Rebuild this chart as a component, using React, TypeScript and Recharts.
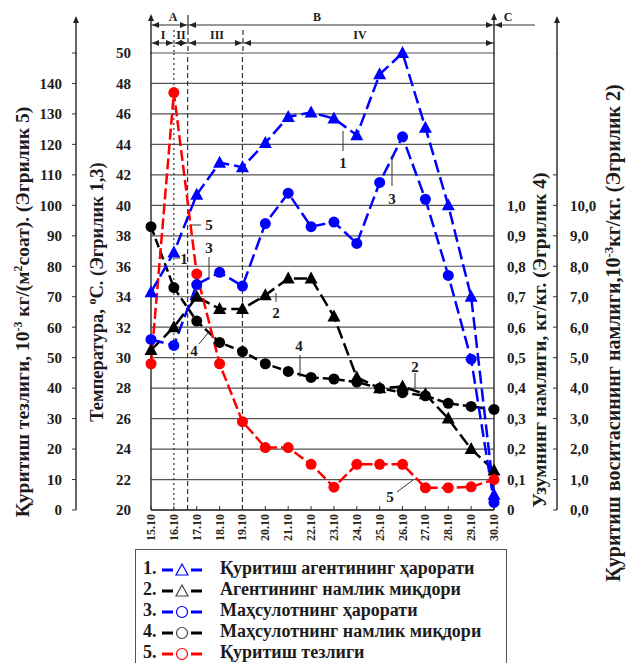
import {
    CartesianGrid,
    ComposedChart,
    Line,
    ReferenceLine,
    XAxis,
    YAxis,
} from "recharts";

// X categories (days of October)
const dates = [
    "15.10", "16.10", "17.10", "18.10", "19.10", "20.10", "21.10", "22.10",
    "23.10", "24.10", "25.10", "26.10", "27.10", "28.10", "29.10", "30.10",
];

// 1. drying agent temperature, °C
const agentTemp = [34.3, 36.9, 40.7, 42.8, 42.5, 44.1, 45.8, 46.1, 45.7, 44.6, 48.6, 50.0, 45.1, 40.0, 34.0, 21.0];
// 2. agent moisture, 10^-3 kg/kg
const agentMoisture = [5.25, 6.0, 7.0, 6.6, 6.6, 7.05, 7.6, 7.6, 6.35, 4.35, 4.0, 4.05, 3.8, 3.0, 2.0, 1.3];
// 3. product temperature, °C
const productTemp = [31.2, 30.8, 34.8, 35.6, 34.7, 38.8, 40.8, 38.6, 38.9, 37.5, 41.5, 44.5, 40.4, 35.4, 29.9, 20.5];
// 4. product (grape) moisture, kg/kg
const productMoisture = [0.93, 0.73, 0.62, 0.55, 0.52, 0.48, 0.455, 0.435, 0.43, 0.42, 0.4, 0.385, 0.375, 0.35, 0.34, 0.33];
// 5. drying rate, 10^-3 kg/(m2 h)
const dryingRate = [48, 137, 77.5, 48, 29, 20.5, 20.5, 15, 7.5, 15, 15, 15, 7.3, 7.3, 7.6, 10];

const seriesNames = [
    "Қуритиш агентининг ҳарорати",
    "Агентининг намлик миқдори",
    "Маҳсулотнинг ҳарорати",
    "Маҳсулотнинг намлик миқдори",
    "Қуритиш тезлиги",
];

const xTicks = [0, 1, 2, 3, 4, 5, 6, 7, 8, 9, 10, 11, 12, 13, 14, 15];
const tempTicks = [20, 22, 24, 26, 28, 30, 32, 34, 36, 38, 40, 42, 44, 46, 48, 50];
const rateTicks = [0, 10, 20, 30, 40, 50, 60, 70, 80, 90, 100, 110, 120, 130, 140, 150];
const moistTicks = [0, 0.1, 0.2, 0.3, 0.4, 0.5, 0.6, 0.7, 0.8, 0.9, 1.0];
const agentTicks = [0, 1, 2, 3, 4, 5, 6, 7, 8, 9, 10, 11];

const data = dates.map((date, i) => ({
    idx: i,
    date,
    agentTemp: agentTemp[i],
    agentMoisture: agentMoisture[i],
    productTemp: productTemp[i],
    productMoisture: productMoisture[i],
    dryingRate: dryingRate[i],
}));

// axis ids: recharts stacks same-side axes by id, first one next to the plot
const TEMP = "l1-temp";
const RATE = "l2-rate";
const MOIST = "r1-moist";
const AGENT = "r2-agent";

const FONT = '"Liberation Serif", "Times New Roman", serif';
const INK = "#1c1c1c";
const BLUE = "#0000ff";
const RED = "#ff0000";
const BLACK = "#000000";

const tickStyle = { fontSize: 15, fontWeight: 700, fill: INK, fontFamily: FONT };
const axisLine = { stroke: "#333", strokeWidth: 1.5 };

const comma = (v: number) => (v === 0 ? "0" : v.toFixed(1).replace(".", ","));

const triangleDot = (color: string, name: string) => (props: any) => {
    const { cx, cy, index } = props;
    if (cx == null || cy == null) return <g key={`${name}-${index}`} />;
    return (
        <polygon
            key={`${name}-${index}`}
            points={`${cx},${cy - 7} ${cx - 6.5},${cy + 5} ${cx + 6.5},${cy + 5}`}
            fill={color}
        />
    );
};

const circleDot = (color: string, name: string) => (props: any) => {
    const { cx, cy, index } = props;
    if (cx == null || cy == null) return <g key={`${name}-${index}`} />;
    return <circle key={`${name}-${index}`} cx={cx} cy={cy} r={5.5} fill={color} />;
};

const DateTick = (props: any) => {
    const { x, payload } = props;
    return (
        <text
            transform={`translate(${x + 4},514) rotate(-90)`}
            textAnchor="end"
            fontSize={12}
            fontWeight={700}
            fontFamily={FONT}
            fill="#2a2410"
        >
            {dates[payload.value]}
        </text>
    );
};

const Arrow = ({ x, y, dir }: { x: number; y: number; dir: "l" | "r" | "u" }) => {
    if (dir === "u") return <polygon points={`${x},${y} ${x - 3},${y + 7} ${x + 3},${y + 7}`} fill="#222" />;
    if (dir === "l") return <polygon points={`${x},${y} ${x + 7},${y - 3} ${x + 7},${y + 3}`} fill="#222" />;
    return <polygon points={`${x},${y} ${x - 7},${y - 3} ${x - 7},${y + 3}`} fill="#222" />;
};

const Overlay = () => {
    const t = { fontFamily: FONT, fontWeight: 700, fill: INK };
    return (
        <svg
            width={628}
            height={663}
            style={{ position: "absolute", left: 0, top: 0, pointerEvents: "none" }}
        >
            {/* axis extensions with arrows */}
            <line x1={76} y1={20} x2={76} y2={54} stroke="#333" strokeWidth={1.5} />
            <Arrow x={76} y={16} dir="u" />
            <line x1={151} y1={18} x2={151} y2={54} stroke="#333" strokeWidth={1.5} />
            <Arrow x={151} y={14} dir="u" />
            <line x1={494} y1={16} x2={494} y2={54} stroke="#333" strokeWidth={1.5} />
            <Arrow x={494} y={13} dir="u" />
            <line x1={557} y1={20} x2={557} y2={54} stroke="#333" strokeWidth={1.5} />
            <Arrow x={557} y={16} dir="u" />

            {/* header dimension lines */}
            <line x1={151} y1={25} x2={535} y2={25} stroke="#333" strokeWidth={1.2} />
            <line x1={151} y1={43} x2={494} y2={43} stroke="#333" strokeWidth={1.2} />
            <line x1={188} y1={15} x2={188} y2={30} stroke="#333" strokeWidth={1.2} />
            <line x1={188} y1={30} x2={188} y2={54} stroke="#333" strokeWidth={1.2} strokeDasharray="5 3" />
            <line x1={174} y1={30} x2={174} y2={54} stroke="#333" strokeWidth={1.2} strokeDasharray="2 3" />
            <line x1={243} y1={30} x2={243} y2={54} stroke="#333" strokeWidth={1.2} strokeDasharray="5 3" />

            <Arrow x={152} y={25} dir="l" />
            <Arrow x={187} y={25} dir="r" />
            <Arrow x={189} y={25} dir="l" />
            <Arrow x={493} y={25} dir="r" />
            <Arrow x={495} y={25} dir="l" />

            <Arrow x={152} y={43} dir="l" />
            <Arrow x={173} y={43} dir="r" />
            <Arrow x={175} y={43} dir="l" />
            <Arrow x={187} y={43} dir="r" />
            <Arrow x={189} y={43} dir="l" />
            <Arrow x={242} y={43} dir="r" />
            <Arrow x={244} y={43} dir="l" />
            <Arrow x={493} y={43} dir="r" />

            <g {...t} fontSize={12} textAnchor="middle">
                <text x={173} y={21}>A</text>
                <text x={317} y={21}>B</text>
                <text x={508} y={21}>C</text>
                <text x={163} y={39}>I</text>
                <text x={181} y={39}>II</text>
                <text x={217} y={39}>III</text>
                <text x={360} y={39}>IV</text>
            </g>

            {/* curve annotations */}
            <g stroke="#333" strokeWidth={1}>
                <line x1={343} y1={131} x2={343} y2={151} />
                <line x1={392} y1={156} x2={392} y2={186} />
                <line x1={191} y1={225} x2={201} y2={225} />
                <line x1={209} y1={257} x2={209} y2={279} />
                <line x1={175} y1={258} x2={180} y2={258} />
                <line x1={276} y1={293} x2={276} y2={302} />
                <line x1={199} y1={344} x2={208} y2={333} />
                <line x1={300} y1={355} x2={300} y2={377} />
                <line x1={415} y1={373} x2={415} y2={389} />
                <line x1={397} y1={492} x2={413} y2={480} />
            </g>
            <g {...t} fontSize={15} textAnchor="middle">
                <text x={343} y={168}>1</text>
                <text x={392} y={204}>3</text>
                <text x={209} y={230}>5</text>
                <text x={209} y={253}>3</text>
                <text x={184} y={264}>1</text>
                <text x={276} y={318}>2</text>
                <text x={194} y={356}>4</text>
                <text x={299} y={351}>4</text>
                <text x={415} y={372}>2</text>
                <text x={390} y={502}>5</text>
            </g>

            {/* axis titles */}
            <g {...t} textAnchor="middle">
                <text transform="translate(29,312) rotate(-90)" fontSize={19.5}>
                    Қуритиш тезлиги, 10<tspan dy={-7} fontSize={12}>-3</tspan>
                    <tspan dy={7}> кг/(м</tspan>
                    <tspan dy={-7} fontSize={12}>2</tspan>
                    <tspan dy={7}>соат). (Эгрилик 5)</tspan>
                </text>
                <text transform="translate(103,292) rotate(-90)" fontSize={18.5}>
                    Температура, <tspan dy={-7} fontSize={12}>o</tspan>
                    <tspan dy={7}>С. (Эгрилик 1,3)</tspan>
                </text>
                <text transform="translate(546,340) rotate(-90)" fontSize={19.5}>
                    Узумнинг намлиги, кг/кг. (Эгрилик 4)
                </text>
                <text transform="translate(620,333) rotate(-90)" fontSize={20}>
                    Қуритиш воситасининг намлиги,10<tspan dy={-7} fontSize={13}>-3</tspan>
                    <tspan dy={7}>кг/кг. (Эгрилик 2)</tspan>
                </text>
            </g>
        </svg>
    );
};

const LegendIcon = ({ color, shape }: { color: string; shape: "tri" | "circ" }) => (
    <svg width={42} height={14} style={{ verticalAlign: "middle" }}>
        <line x1={0} y1={7} x2={11} y2={7} stroke={color} strokeWidth={3} />
        {shape === "tri" ? (
            <polygon points="20,1 14,12 26,12" fill="none" stroke={color === BLACK ? "#444" : color} strokeWidth={1.2} />
        ) : (
            <circle cx={20} cy={7} r={5.5} fill="none" stroke={color === BLACK ? "#444" : color} strokeWidth={1.2} />
        )}
        <line x1={29} y1={7} x2={40} y2={7} stroke={color} strokeWidth={3} />
    </svg>
);

const legendColors = [BLUE, BLACK, BLUE, BLACK, RED];
const legendShapes: ("tri" | "circ")[] = ["tri", "tri", "circ", "circ", "circ"];

const LegendBox = () => (
    <div
        style={{
            position: "absolute",
            left: 135,
            top: 549,
            width: 372,
            height: 130,
            border: "1.5px solid #555",
            background: "#fff",
            fontFamily: FONT,
            fontWeight: 700,
            fontSize: 18,
            color: INK,
            paddingTop: 8,
            boxSizing: "border-box",
        }}
    >
        {seriesNames.map((name, i) => (
            <div key={name} style={{ height: 21, lineHeight: "21px", whiteSpace: "nowrap" }}>
                <span style={{ display: "inline-block", boxSizing: "border-box", width: 26, paddingLeft: 7 }}>{i + 1}.</span>
                <span style={{ display: "inline-block", boxSizing: "border-box", width: 58 }}>
                    <LegendIcon color={legendColors[i]} shape={legendShapes[i]} />
                </span>
                <span>{name}</span>
            </div>
        ))}
    </div>
);

export default function App() {
    return (
        <div style={{ position: "absolute", left: 0, top: 0, width: 628, height: 663, background: "#fff" }}>
            <ComposedChart
                width={628}
                height={663}
                data={data}
                margin={{ top: 53, right: 0, bottom: 113, left: 0 }}
            >
                <CartesianGrid yAxisId={TEMP} vertical={false} stroke="#555" strokeWidth={1.2} />
                <XAxis
                    dataKey="idx"
                    type="number"
                    domain={[0, 15]}
                    ticks={xTicks}
                    interval={0}
                    height={40}
                    tick={DateTick}
                    tickSize={-4}
                    axisLine={axisLine}
                    tickLine={{ stroke: "#333" }}
                />
                <YAxis
                    yAxisId={TEMP}
                    orientation="left"
                    width={75}
                    domain={[20, 50]}
                    ticks={tempTicks}
                    interval={0}
                    tickSize={0}
                    tickMargin={20}
                    tickLine={false}
                    axisLine={axisLine}
                    tick={tickStyle}
                />
                <YAxis
                    yAxisId={RATE}
                    orientation="left"
                    width={76}
                    domain={[0, 150]}
                    ticks={rateTicks}
                    interval={0}
                    tickSize={4}
                    tickMargin={10}
                    tickFormatter={(v: number) => (v === 150 ? "" : String(v))}
                    axisLine={axisLine}
                    tickLine={{ stroke: "#333" }}
                    tick={tickStyle}
                />
                <YAxis
                    yAxisId={MOIST}
                    orientation="right"
                    width={63}
                    domain={[0, 1.5]}
                    ticks={moistTicks}
                    interval={0}
                    tickSize={0}
                    tickMargin={13}
                    tickLine={false}
                    tickFormatter={comma}
                    axisLine={axisLine}
                    tick={tickStyle}
                />
                <YAxis
                    yAxisId={AGENT}
                    orientation="right"
                    width={71}
                    domain={[0, 15]}
                    ticks={agentTicks}
                    interval={0}
                    tickSize={-4}
                    tickMargin={17}
                    tickFormatter={(v: number) => (v === 11 ? "" : v.toFixed(1).replace(".", ","))}
                    axisLine={axisLine}
                    tickLine={{ stroke: "#333" }}
                    tick={tickStyle}
                />

                <ReferenceLine yAxisId={TEMP} x={1} stroke="#333" strokeWidth={1.2} strokeDasharray="2 3" />
                <ReferenceLine yAxisId={TEMP} x={1.6} stroke="#333" strokeWidth={1.2} strokeDasharray="5 3" />
                <ReferenceLine yAxisId={TEMP} x={4} stroke="#333" strokeWidth={1.2} strokeDasharray="5 3" />

                <Line
                    yAxisId={MOIST}
                    dataKey="productMoisture"
                    stroke={BLACK}
                    strokeWidth={2.5}
                    strokeDasharray="9 4"
                    dot={circleDot(BLACK, "pm")}
                    isAnimationActive={false}
                />
                <Line
                    yAxisId={AGENT}
                    dataKey="agentMoisture"
                    stroke={BLACK}
                    strokeWidth={2.5}
                    strokeDasharray="13 5"
                    dot={triangleDot(BLACK, "am")}
                    isAnimationActive={false}
                />
                <Line
                    yAxisId={RATE}
                    dataKey="dryingRate"
                    stroke={RED}
                    strokeWidth={2.5}
                    strokeDasharray="11 4"
                    dot={circleDot(RED, "dr")}
                    isAnimationActive={false}
                />
                <Line
                    yAxisId={TEMP}
                    dataKey="productTemp"
                    stroke={BLUE}
                    strokeWidth={2.5}
                    strokeDasharray="13 5"
                    dot={circleDot(BLUE, "pt")}
                    isAnimationActive={false}
                />
                <Line
                    yAxisId={TEMP}
                    dataKey="agentTemp"
                    stroke={BLUE}
                    strokeWidth={2.5}
                    strokeDasharray="13 5"
                    dot={triangleDot(BLUE, "at")}
                    isAnimationActive={false}
                />
            </ComposedChart>
            <Overlay />
            <LegendBox />
        </div>
    );
}
